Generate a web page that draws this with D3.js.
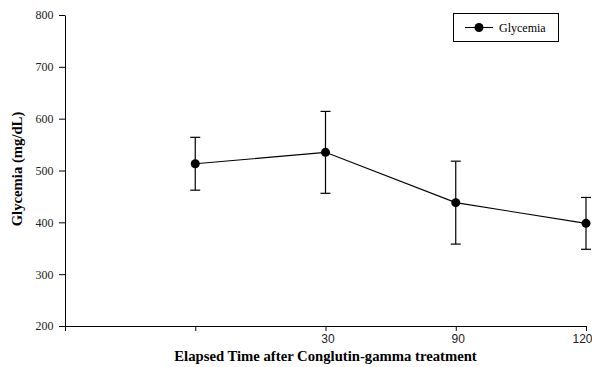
<!DOCTYPE html>
<html><head><meta charset="utf-8">
<script src="https://cdn.jsdelivr.net/npm/d3@7"></script>
<style>body{margin:0;background:#fff}svg{display:block}</style>
</head><body>
<script>
const tickLabels = ["", "", "30", "90", "120"];
const pointIndex = [1, 2, 3, 4];
const glycemia = [513, 535, 438, 398];
const glycemiaErr = [51, 79, 80, 50];
const yTicks = [200, 300, 400, 500, 600, 700, 800];

const W = 592, H = 367;
const svg = d3.select("body").append("svg").attr("width", W).attr("height", H);
const x = d3.scaleLinear().domain([0, tickLabels.length - 1]).range([65, 586]);
const y = d3.scaleLinear().domain([200, 800]).range([326, 15]);

const serif = "'Liberation Serif','Times New Roman',serif";
const sans = "'Liberation Sans',Arial,sans-serif";

// y axis
const ya = svg.append("g").attr("transform", "translate(65,0)")
  .call(d3.axisLeft(y).tickValues(yTicks).tickSize(6).tickPadding(5.5).tickSizeOuter(0));
ya.select(".domain").attr("stroke", "#000");
ya.selectAll("text").attr("font-family", serif).attr("font-size", 12).attr("fill", "#222");

// x axis
const xa = svg.append("g").attr("transform", "translate(0,326)")
  .call(d3.axisBottom(x).tickValues(d3.range(tickLabels.length)).tickFormat(i => tickLabels[i])
    .tickSize(5).tickPadding(3).tickSizeOuter(0));
xa.select(".domain").attr("stroke", "#000");
xa.selectAll("text").attr("font-family", sans).attr("font-size", 12).attr("fill", "#222")
  .attr("dx", (d, i, n) => i === n.length - 1 ? -4 : 2);

// titles
svg.append("text").attr("x", 325.5).attr("y", 361).attr("text-anchor", "middle")
  .attr("font-family", serif).attr("font-weight", "bold").attr("font-size", 14.7)
  .text("Elapsed Time after Conglutin-gamma treatment");
svg.append("text").attr("transform", "translate(22,169) rotate(-90)").attr("text-anchor", "middle")
  .attr("font-family", serif).attr("font-weight", "bold").attr("font-size", 14.7)
  .text("Glycemia (mg/dL)");

const data = pointIndex.map((p, i) => ({p, v: glycemia[i], e: glycemiaErr[i]}));

// error bars
const eb = svg.append("g").attr("stroke", "#000").attr("stroke-width", 1.2);
data.forEach(d => {
  eb.append("line").attr("x1", x(d.p)).attr("x2", x(d.p)).attr("y1", y(d.v - d.e)).attr("y2", y(d.v + d.e));
  [d.v - d.e, d.v + d.e].forEach(v => eb.append("line")
    .attr("x1", x(d.p) - 5).attr("x2", x(d.p) + 5).attr("y1", y(v)).attr("y2", y(v)));
});

// line
svg.append("path").datum(data).attr("fill", "none").attr("stroke", "#000").attr("stroke-width", 1.1)
  .attr("d", d3.line().x(d => x(d.p)).y(d => y(d.v)));
svg.selectAll("circle.pt").data(data).join("circle").attr("class", "pt")
  .attr("cx", d => x(d.p)).attr("cy", d => y(d.v)).attr("r", 4.5).attr("fill", "#000");

// legend
const lg = svg.append("g");
lg.append("rect").attr("x", 453.5).attr("y", 13.5).attr("width", 105).attr("height", 28)
  .attr("fill", "#fff").attr("stroke", "#000");
lg.append("line").attr("x1", 465).attr("x2", 493).attr("y1", 27.5).attr("y2", 27.5).attr("stroke", "#000").attr("stroke-width", 1.1);
lg.append("circle").attr("cx", 479).attr("cy", 27.5).attr("r", 4.5).attr("fill", "#000");
lg.append("text").attr("x", 499).attr("y", 31.5).attr("font-family", serif).attr("font-size", 12).text("Glycemia");
</script>
</body></html>
